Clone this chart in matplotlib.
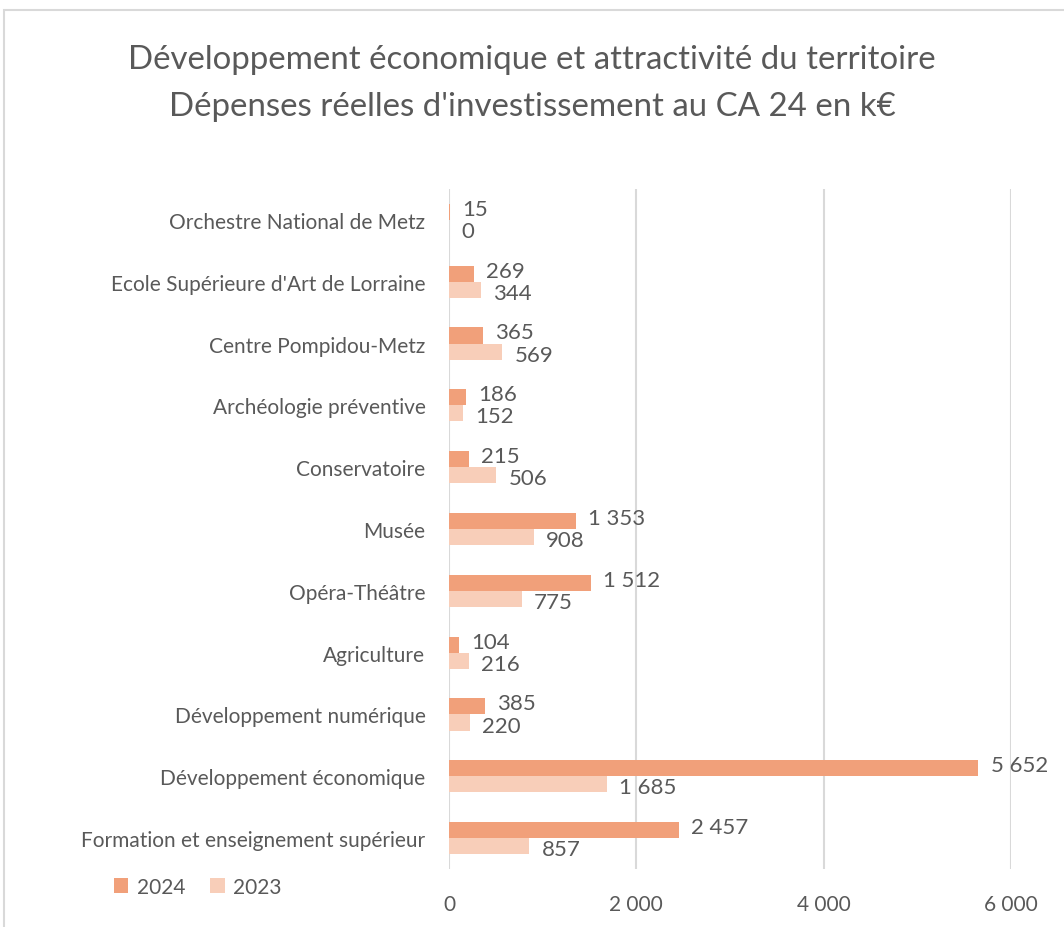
import matplotlib.pyplot as plt
import numpy as np
from matplotlib.patches import Rectangle

categories = ['Orchestre National de Metz', "Ecole Supérieure d'Art de Lorraine",
              'Centre Pompidou-Metz', 'Archéologie préventive', 'Conservatoire',
              'Musée', 'Opéra-Théâtre', 'Agriculture', 'Développement numérique',
              'Développement économique', 'Formation et enseignement supérieur']
values_2024 = [15, 269, 365, 186, 215, 1353, 1512, 104, 385, 5652, 2457]
values_2023 = [0, 344, 569, 152, 506, 908, 775, 216, 220, 1685, 857]
xticks = [0, 2000, 4000, 6000]

plt.rcParams['font.family'] = ['Lato', 'DejaVu Sans']
text_color = '#595959'
color_2024 = '#F1A07A'
color_2023 = '#F8CEB9'


def fmt(v):
    return f'{v:,}'.replace(',', '\u202f')


fig = plt.figure(figsize=(10.64, 9.28), dpi=100)
fig.patches.append(Rectangle((4 / 1064, -0.05), 1.1, 1 - 11 / 928 + 0.05, transform=fig.transFigure,
                             fill=False, edgecolor='#d9d9d9', linewidth=1.5))
ax = fig.add_axes([449 / 1064, 1 - 870 / 928, (1011 - 449) / 1064, (870 - 190) / 928])

y = np.arange(len(categories))
h = 0.26
ax.barh(y - h / 2, values_2024, height=h, color=color_2024, label='2024', zorder=3)
ax.barh(y + h / 2, values_2023, height=h, color=color_2023, label='2023', zorder=3)

for i in range(len(categories)):
    ax.text(values_2024[i] + 130, y[i] - h / 2 - 0.05, fmt(values_2024[i]), va='center', ha='left',
            fontsize=16, color=text_color)
    ax.text(values_2023[i] + 130, y[i] + h / 2 + 0.05, fmt(values_2023[i]), va='center', ha='left',
            fontsize=16, color=text_color)

ax.set_ylim(len(categories) - 0.5, -0.5)
ax.set_xlim(0, 6000)
ax.set_yticks(y)
ax.set_yticklabels(categories, fontsize=15, color=text_color)
ax.set_xticks(xticks)
ax.set_xticklabels([fmt(v) for v in xticks], fontsize=15, color=text_color)
ax.tick_params(length=0, pad=17)
ax.tick_params(axis='x', pad=18)
ax.grid(axis='x', color='#d9d9d9', linewidth=1.5, zorder=0)
for s in ['top', 'right', 'bottom', 'left']:
    ax.spines[s].set_visible(False)

fig.text(0.5, 1 - 60 / 928, 'Développement économique et attractivité du territoire',
         ha='center', va='center', fontsize=23.8, color=text_color)
fig.text(0.5, 1 - 107 / 928, "Dépenses réelles d'investissement au CA 24 en k€",
         ha='center', va='center', fontsize=23.8, color=text_color)

fig.legend(loc='center left', bbox_to_anchor=(95 / 1064, 1 - 888 / 928), ncol=2, frameon=False,
           fontsize=15, labelcolor=text_color, handlelength=0.7, handleheight=0.7,
           handletextpad=0.4, columnspacing=1.2)

fig.savefig('out.png', dpi=100)
